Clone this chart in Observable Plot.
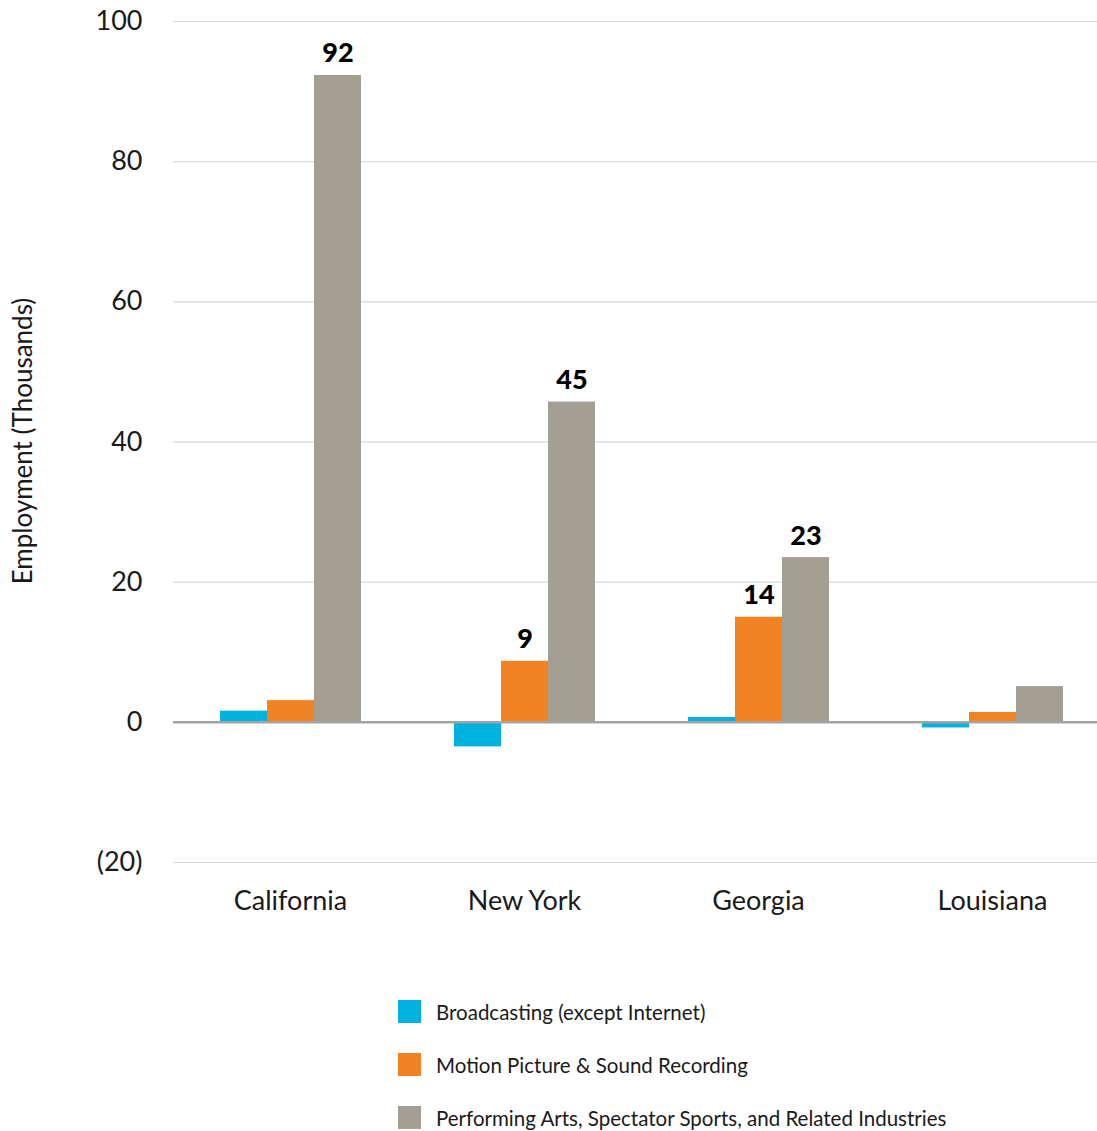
<!DOCTYPE html>
<html>
<head>
<meta charset="utf-8">
<script src="https://cdn.jsdelivr.net/npm/d3@7"></script>
<script src="https://cdn.jsdelivr.net/npm/@observablehq/plot@0.6"></script>
<style>
  body { margin: 0; background: #fff; font-family: Lato, "Open Sans", sans-serif; }
  #legend { margin-left: 398px; margin-top: 45px; }
  .row { display: flex; align-items: center; height: 53px; font-size: 20.5px; color: #1a1a1a; white-space: nowrap; }
  .sw { width: 23px; height: 23px; margin-right: 15px; flex: none; }
</style>
</head>
<body>
<div id="chart"></div>
<div id="legend"></div>
<script>
const states = ["California", "New York", "Georgia", "Louisiana"];
const series = ["Broadcasting (except Internet)", "Motion Picture & Sound Recording", "Performing Arts, Spectator Sports, and Related Industries"];
const colors = ["#00b2de", "#f28322", "#a39f93"];
const broadcasting = [1.6, -3.5, 0.7, -0.8];
const motionPicture = [3.1, 8.7, 15.0, 1.4];
const performingArts = [92.3, 45.7, 23.5, 5.1];
const motionLabels = ["", "9", "14", ""];
const performingLabels = ["92", "45", "23", ""];
const yTicks = [-20, 0, 20, 40, 60, 80, 100];

const rows = [];
states.forEach((s, i) => {
  rows.push({state: s, series: series[0], value: broadcasting[i], label: ""});
  rows.push({state: s, series: series[1], value: motionPicture[i], label: motionLabels[i]});
  rows.push({state: s, series: series[2], value: performingArts[i], label: performingLabels[i]});
});

const chart = Plot.plot({
  width: 1097,
  height: 940,
  marginLeft: 172,
  marginRight: -12,
  marginTop: 21,
  marginBottom: 78,
  style: {fontFamily: "Lato, 'Open Sans', sans-serif", fontSize: "27px", color: "#1a1a1a"},
  fx: {domain: states, padding: 0, label: null, tickSize: 0, tickPadding: 28},
  x: {domain: series, paddingInner: 0, paddingOuter: 0.96, axis: null},
  y: {domain: [-20, 100], ticks: yTicks, tickSize: 0, tickPadding: 31, label: null,
      tickFormat: d => d < 0 ? `(${-d})` : `${d}`, grid: true},
  color: {domain: series, range: colors},
  marks: [
    Plot.gridY(yTicks, {stroke: "#d9d9d9", strokeOpacity: 1, strokeWidth: 1}),
    Plot.barY(rows, {fx: "state", x: "series", y: "value", fill: "series"}),
    Plot.ruleY([0], {stroke: "#a3a3a3", strokeWidth: 2.5}),
    Plot.text(rows.filter(d => d.label), {fx: "state", x: "series", y: "value", text: "label",
      lineAnchor: "bottom", dy: -13, fontSize: 27, fontWeight: 900, fill: "#000"})
  ]
});
document.getElementById("chart").appendChild(chart);

// y-axis title
const svg = d3.select(chart);
svg.append("text")
  .attr("transform", "translate(25,441) rotate(-90)")
  .attr("text-anchor", "middle")
  .attr("dominant-baseline", "middle")
  .attr("font-size", 26)
  .attr("fill", "#1a1a1a")
  .text("Employment (Thousands)");

const legend = document.getElementById("legend");
series.forEach((s, i) => {
  const r = document.createElement("div");
  r.className = "row";
  r.innerHTML = `<div class="sw" style="background:${colors[i]}"></div><span></span>`;
  r.querySelector("span").textContent = s;
  legend.appendChild(r);
});
</script>
</body>
</html>
